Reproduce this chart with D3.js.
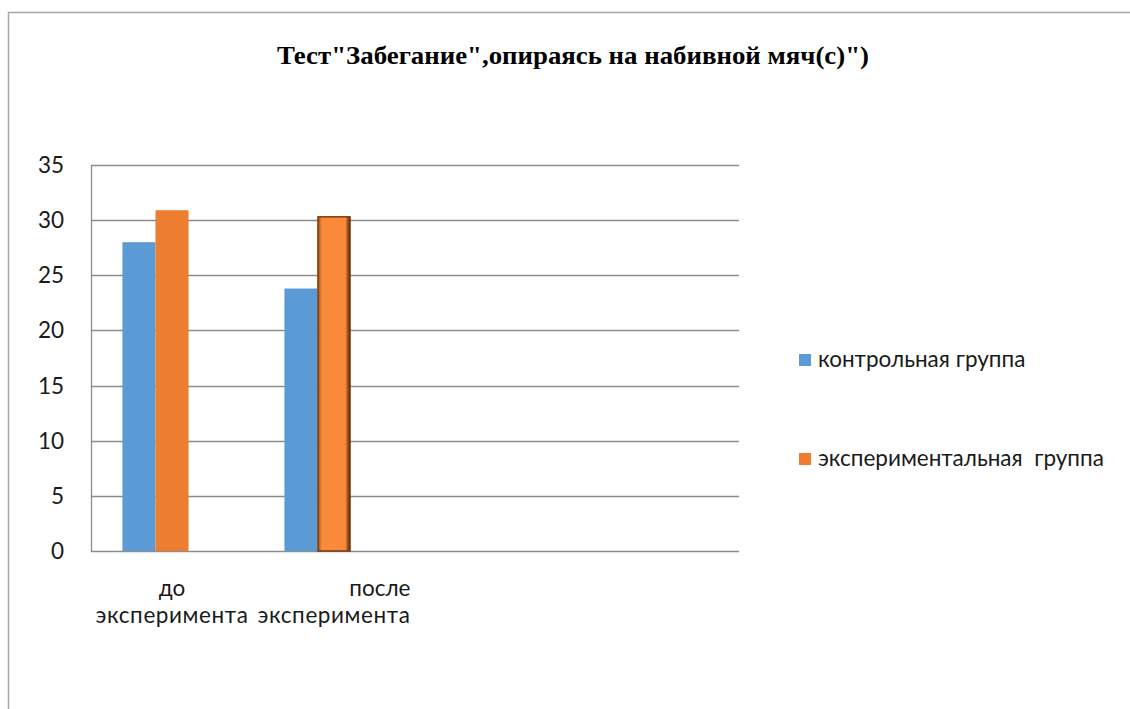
<!DOCTYPE html>
<html>
<head>
<meta charset="utf-8">
<script src="https://cdn.jsdelivr.net/npm/d3@7"></script>
<style>
  body { margin: 0; background: #fff; }
  text { font-family: Lato, "Open Sans", sans-serif; }
</style>
</head>
<body>
<div id="chart"></div>
<script>
// chart data
const title = 'Тест"Забегание",опираясь на набивной мяч(с)")';
const categories = ["до эксперимента", "после эксперимента", "", " "];
const labelLines = [["до", "эксперимента"], ["после", "эксперимента"], [], []];
const seriesNames = ["контрольная группа", "экспериментальная  группа"];
const controlValues = [28, 23.8];
const experimentValues = [30.9, 30.3];
const yTicks = [0, 5, 10, 15, 20, 25, 30, 35];

const width = 1130, height = 709;
const margin = { left: 91, right: 391, top: 165, bottom: 158 };
const fs = 22.5;

const svg = d3.select('#chart')
  .append('svg')
  .attr('width', width)
  .attr('height', height);

// outer chart frame (only top and left edges visible)
svg.append('path')
  .attr('d', 'M8.5,709 L8.5,12.5 L1130,12.5')
  .attr('fill', 'none')
  .attr('stroke', '#a6a6a6')
  .attr('stroke-width', 1.5);

svg.append('text')
  .attr('x', 573)
  .attr('y', 64)
  .attr('text-anchor', 'middle')
  .style('font-family', '"Liberation Serif", serif')
  .attr('font-weight', 'bold')
  .attr('font-size', 25)
  .attr('textLength', 592)
  .attr('lengthAdjust', 'spacingAndGlyphs')
  .text(title);

const x = d3.scaleBand()
  .domain(categories)
  .range([margin.left, width - margin.right]);

const y = d3.scaleLinear()
  .domain([0, 35])
  .range([height - margin.bottom, margin.top]);

// gridlines
svg.append('g')
  .selectAll('line')
  .data(yTicks)
  .enter()
  .append('line')
  .attr('x1', margin.left)
  .attr('x2', width - margin.right)
  .attr('y1', d => Math.round(y(d)) + 0.5)
  .attr('y2', d => Math.round(y(d)) + 0.5)
  .attr('stroke', '#8c8c8c')
  .attr('stroke-width', 1.3);

svg.append('line')
  .attr('x1', margin.left + 0.5)
  .attr('x2', margin.left + 0.5)
  .attr('y1', y(35))
  .attr('y2', y(0) + 1)
  .attr('stroke', '#8c8c8c')
  .attr('stroke-width', 1.3);

// y labels
svg.append('g')
  .selectAll('text')
  .data(yTicks)
  .enter()
  .append('text')
  .attr('x', 64)
  .attr('y', d => y(d) + 8)
  .attr('text-anchor', 'end')
  .attr('font-size', fs)
  .attr('fill', '#1a1a1a')
  .text(d => d);

// bars: 3 slots per category (third empty in source), wide gap
const barW = x.bandwidth() / 4.9;
const groupStart = d => x(d) + x.bandwidth() / 2 - 1.5 * barW;

const defs = svg.append('defs');
const grad = defs.append('linearGradient').attr('id', 'bevel').attr('x1', 0).attr('x2', 1);
grad.append('stop').attr('offset', '0%').attr('stop-color', '#a0501a');
grad.append('stop').attr('offset', '12%').attr('stop-color', '#f98a38');
grad.append('stop').attr('offset', '85%').attr('stop-color', '#fb8a3a');
grad.append('stop').attr('offset', '100%').attr('stop-color', '#4a2206');

svg.append('g')
  .selectAll('rect')
  .data(controlValues)
  .enter()
  .append('rect')
  .attr('x', (d, i) => groupStart(categories[i]))
  .attr('y', d => y(d))
  .attr('width', barW)
  .attr('height', d => y(0) - y(d))
  .attr('fill', '#5b9bd5');

svg.append('g')
  .selectAll('rect')
  .data(experimentValues)
  .enter()
  .append('rect')
  .attr('x', (d, i) => groupStart(categories[i]) + barW + (i === 1 ? 0.5 : 0))
  .attr('y', d => y(d))
  .attr('width', (d, i) => i === 1 ? barW - 1 : barW)
  .attr('height', d => y(0) - y(d))
  .attr('fill', (d, i) => i === 1 ? 'url(#bevel)' : '#ed7d31')
  .attr('stroke', (d, i) => i === 1 ? '#7a3a10' : 'none')
  .attr('stroke-width', 1.5);

// category labels
const lab = svg.append('g')
  .attr('font-size', fs)
  .attr('fill', '#1a1a1a');
labelLines.forEach((lines, i) => {
  if (!lines.length) return;
  const cx = x(categories[i]) + x.bandwidth() / 2;
  const second = lab.append('text')
    .attr('x', cx)
    .attr('y', 623)
    .attr('text-anchor', 'middle')
    .attr('letter-spacing', 0.6)
    .text(lines[1]);
  const w = second.node().getComputedTextLength();
  lab.append('text')
    .attr('x', i === 1 ? cx + w / 2 : cx)
    .attr('y', 596)
    .attr('text-anchor', i === 1 ? 'end' : 'middle')
    .text(lines[0]);
});

// legend
const legendColors = ['#5b9bd5', '#ed7d31'];
const legend = svg.append('g')
  .selectAll('g')
  .data(seriesNames)
  .enter()
  .append('g')
  .attr('transform', (d, i) => `translate(799, ${354 + i * 99})`);
legend.append('rect')
  .attr('width', 12)
  .attr('height', 12)
  .attr('fill', (d, i) => legendColors[i]);
legend.append('text')
  .attr('x', 19)
  .attr('y', 13)
  .attr('font-size', fs)
  .attr('fill', '#1a1a1a')
  .style('white-space', 'pre')
  .text(d => d);
</script>
</body>
</html>
